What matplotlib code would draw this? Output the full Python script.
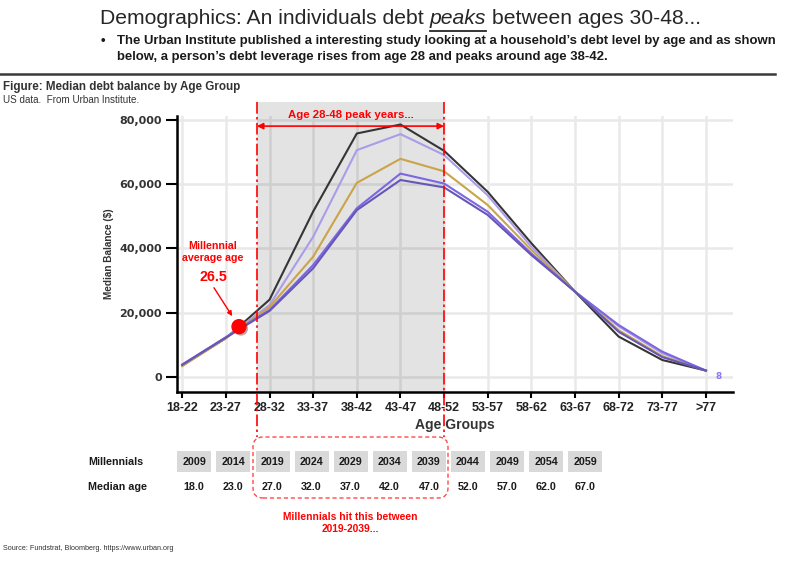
import numpy as np
import matplotlib
matplotlib.use("Agg")
import matplotlib.pyplot as plt
import matplotlib.patheffects as pe
from matplotlib import font_manager as fm
from matplotlib.lines import Line2D
from matplotlib.patches import FancyBboxPatch, Rectangle
from matplotlib.transforms import IdentityTransform

# data
age_groups = ["18-22", "23-27", "28-32", "33-37", "38-42", "43-47", "48-52",
              "53-57", "58-62", "63-67", "68-72", "73-77", ">77"]
debt_black = [3500, 12000, 24000, 51500, 75800, 78600, 70400, 57600, 41600, 26500, 12500, 5200, 1900]
debt_lavender = [3600, 12200, 22300, 43600, 70600, 75600, 69100, 56500, 40500, 26500, 15700, 7300, 1900]
debt_gold = [3300, 12000, 21700, 37400, 60400, 67900, 64000, 53500, 39500, 26500, 14500, 6400, 1900]
debt_purple = [3800, 12300, 20800, 34800, 52500, 63300, 60200, 51400, 38400, 26500, 16100, 7800, 1900]
debt_slate = [3700, 12200, 20500, 33800, 51900, 61300, 59000, 50400, 37900, 26500, 14000, 6100, 1900]

millennial_years = [2009, 2014, 2019, 2024, 2029, 2034, 2039, 2044, 2049, 2054, 2059]
median_ages = [18.0, 23.0, 27.0, 32.0, 37.0, 42.0, 47.0, 52.0, 57.0, 62.0, 67.0]

avg_age = 26.5
avg_age_debt = 15600
peak_lo, peak_hi = 1.71, 6.0   # shaded band, in age-group index

W, H = 800, 562
names = {f.name for f in fm.fontManager.ttflist}
NARROW = "Liberation Sans Narrow" if "Liberation Sans Narrow" in names else "Liberation Sans"
k = 1.0 if NARROW == "Liberation Sans Narrow" else 0.82

fig = plt.figure(figsize=(8, 5.62), dpi=100)
fig.patch.set_facecolor("white")


def fx(px):
    return px / W


def fy(py):
    return 1 - py / H


def ftext(px, py, s, **kw):
    return fig.text(fx(px), fy(py), s, **kw)


# ---- header ----
r = fig.canvas.get_renderer()
tfont = dict(family=NARROW, fontsize=18.6 * k, color="#262626", va="center")
sp = (fig.text(0, 0, "x x", **tfont).get_window_extent(r).width
      - fig.text(0, 0, "xx", **tfont).get_window_extent(r).width)
for t in fig.texts[:]:
    t.remove()
t1 = ftext(100, 18, "Demographics: An individuals debt", **tfont)
b1 = t1.get_window_extent(r)
t2 = fig.text((b1.x1 + sp) / W, fy(18), "peaks", style="italic", **tfont)
b2 = t2.get_window_extent(r)
fig.add_artist(Line2D([b2.x0 / W, b2.x1 / W], [fy(30.5)] * 2, color="#262626", lw=1.3))
fig.text((b2.x1 + sp) / W, fy(18), "between ages 30-48...", **tfont)

bfont = dict(family=NARROW, fontsize=11.5 * k, fontweight="bold", color="#1a1a1a", va="center")
ftext(101, 41, "\u2022", **bfont)
ftext(117, 41, "The Urban Institute published a interesting study looking at a household\u2019s "
      "debt level by age and as shown", **bfont)
ftext(117, 57, "below, a person\u2019s debt leverage rises from age 28 and peaks around age 38-42.", **bfont)
fig.add_artist(Line2D([0, fx(775)], [fy(74)] * 2, color="#3a3a3a", lw=1.8))

ftext(3, 87, "Figure: Median debt balance by Age Group", family="Liberation Sans",
      fontsize=8.4, fontweight="bold", color="#333333", va="center")
ftext(3, 100, "US data.  From Urban Institute.", family=NARROW, fontsize=8.7 * k,
      color="#333333", va="center")

# ---- chart ----
ax = fig.add_axes([fx(177), fy(392), fx(733) - fx(177), fy(116) - fy(392)])
x = np.arange(len(age_groups))
series = [(debt_black, "#353535"), (debt_lavender, "#ab9ce8"), (debt_gold, "#cba34a"),
          (debt_purple, "#7c66e2"), (debt_slate, "#6657b6")]
for vals, col in series:
    ax.plot(x, vals, color=col, lw=1.5, zorder=3)

ax.set_xlim(-0.12, 12.62)
ax.set_ylim(-4770, 81250)
ax.set_xticks(x)
ax.set_xticklabels(age_groups, family="Liberation Sans", fontweight="bold", fontsize=9, color="#222222")
ax.set_yticks([0, 20000, 40000, 60000, 80000])
ax.set_yticklabels([f"{v:,}" for v in [0, 20000, 40000, 60000, 80000]],
                   family="DejaVu Sans", fontweight="bold", fontsize=8, color="#333333")
ax.tick_params(axis="y", direction="out", length=8, width=1.5, pad=3)
ax.tick_params(axis="x", direction="out", length=4, width=1.5, pad=3)
for s in ["top", "right"]:
    ax.spines[s].set_visible(False)
for s in ["left", "bottom"]:
    ax.spines[s].set_linewidth(1.8)
ax.grid(True, color="#e9e9e9", lw=1.8)
ax.set_axisbelow(True)
ax.set_xlabel("Age Groups", family="Liberation Sans", fontweight="bold", fontsize=10,
              color="#333333", labelpad=3)
ax.set_ylabel("Median Balance ($)", family=NARROW, fontweight="bold", fontsize=8.8 * k,
              color="#333333", labelpad=4)

# peak band
ax.axvspan(peak_lo, peak_hi, ymin=0, ymax=1.0507, color="black", alpha=0.11, lw=0,
           clip_on=False, zorder=1)
for xv in (peak_lo, peak_hi):
    ax.plot([xv, xv], [1.0507, -0.163], transform=ax.get_xaxis_transform(), color="red",
            lw=1.2, ls=(0, (7, 2, 1.5, 2)), clip_on=False, zorder=4)
ax.annotate("", xy=(peak_lo, 78100), xytext=(peak_hi, 78100),
            arrowprops=dict(arrowstyle="<|-|>", color="red", lw=1.2, mutation_scale=9,
                            shrinkA=0, shrinkB=0), zorder=5)
ax.text((peak_lo + peak_hi) / 2, 81700, "Age 28-48 peak years...", family=NARROW,
        fontweight="bold", fontsize=10 * k, color="red", ha="center", va="center")

# millennial average age marker
dot_x = (avg_age - 20) / 5
ax.plot(dot_x, avg_age_debt, "o", color="red", ms=10, zorder=6,
        path_effects=[pe.SimplePatchShadow(offset=(1.5, -1.5), alpha=0.35), pe.Normal()])
ax.annotate("", xy=(dot_x, avg_age_debt), xytext=(-18, 28), textcoords="offset points",
            arrowprops=dict(arrowstyle="-|>", color="red", lw=1, mutation_scale=7,
                            shrinkA=0, shrinkB=9), zorder=6)
ftext(213, 252, "Millennial\naverage age", family=NARROW, fontweight="bold",
      fontsize=9.3 * k, color="red", ha="center", va="center", linespacing=1.3)
ftext(213, 277, f"{avg_age}", family=NARROW, fontweight="bold", fontsize=12.5 * k,
      color="red", ha="center", va="center")
ax.text(12.3, 0, "8", color="#8a7af0", fontsize=6.5, fontweight="bold", ha="center", va="center")

# ---- table ----
tfont2 = dict(family=NARROW, fontweight="bold", fontsize=9.4 * k, color="#1a1a1a",
              ha="center", va="center")
ftext(88, 462, "Millennials", **dict(tfont2, ha="left"))
ftext(88, 487, "Median age", **dict(tfont2, ha="left"))
for i, (yr, age) in enumerate(zip(millennial_years, median_ages)):
    cx = 194.3 + 39.1 * i
    fig.add_artist(Rectangle((cx - 17, H - 472), 34, 21, transform=IdentityTransform(),
                             facecolor="#d9d9d9", edgecolor="none"))
    ftext(cx, 462, str(yr), **tfont2)
    ftext(cx, 487, f"{age:.1f}", **tfont2)

fig.add_artist(FancyBboxPatch((253, H - 498), 195, 61, boxstyle="round,pad=0,rounding_size=10",
                              transform=IdentityTransform(), facecolor="none",
                              edgecolor="#ff4a4a", lw=1, ls=(0, (3, 2))))
ftext(350, 512, "Millennials hit this between\n2019-2039...", family=NARROW, fontweight="bold",
      fontsize=9.0 * k, color="red", ha="center", va="top", linespacing=1.3)

ftext(3, 548, "Source: Fundstrat, Bloomberg. https://www.urban.org", family="Liberation Sans",
      fontsize=5.2, color="#333333", va="center")

fig.savefig("out.png", dpi=100)
